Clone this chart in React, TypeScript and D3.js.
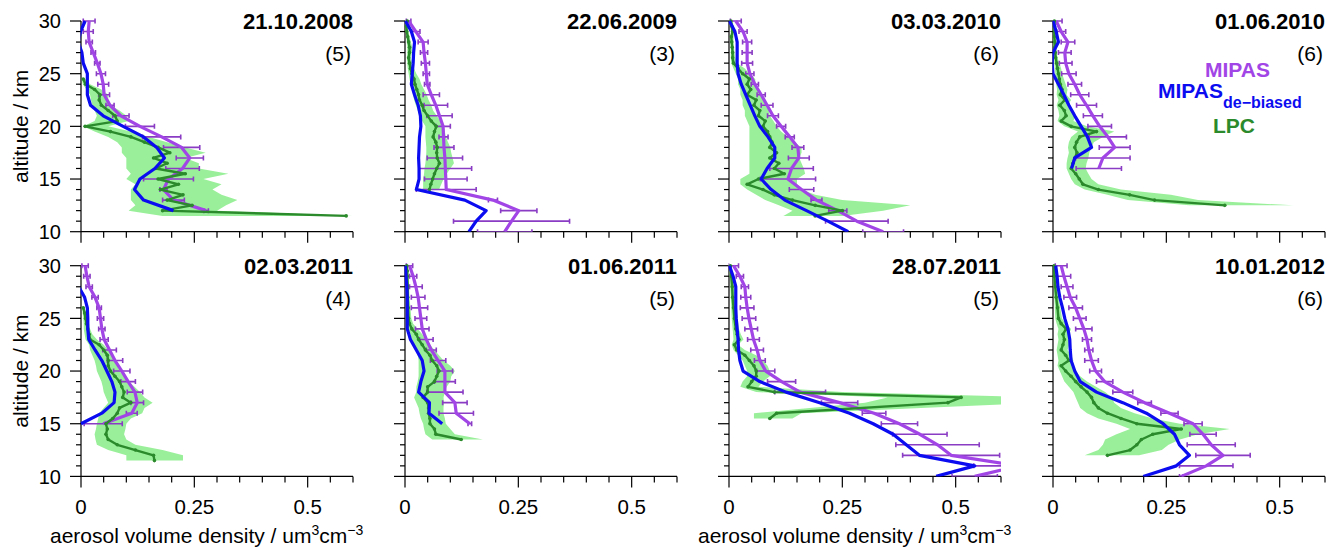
import React from 'react';
import * as d3 from 'd3';

// ---------- panel labels ----------
const DATES = ['21.10.2008', '22.06.2009', '03.03.2010', '01.06.2010', '02.03.2011', '01.06.2011', '28.07.2011', '10.01.2012'];
const COUNTS = [5, 3, 6, 6, 4, 5, 5, 6];
const X_MAJOR = [0, 0.25, 0.5];
const X_MINOR_STEP = 0.05;
const Y_MAJOR = [10, 15, 20, 25, 30];
const X_MAX = 0.6;
const ALT_TOP = 30;
const ALT_BOTTOM = 10;

const halfKm = (from: number, to: number) => d3.range(from, to - 0.01, -0.5);

// ---------- 21.10.2008 ----------  (MIPAS at 30,29,... km)
const mipas1 = [0.018, 0.016, 0.018, 0.027, 0.036, 0.044, 0.049, 0.051, 0.064, 0.088, 0.130, 0.178, 0.222, 0.240, 0.224, 0.193, 0.182, 0.204, 0.276];
const err1 = [0.013, 0.011, 0.007, 0.005, 0.006, 0.010, 0.012, 0.012, 0.009, 0.018, 0.032, 0.042, 0.040, 0.030, 0.037, 0.055, 0.008, 0.024, 0.005];
const deb1 = [0.009, -0.001, -0.006, 0.002, 0.005, 0.014, 0.014, 0.014, 0.021, 0.049, 0.093, 0.138, 0.167, 0.184, 0.163, 0.130, 0.118, 0.138, 0.204];
const lpcAlt1 = halfKm(24.5, 11.5);
const lpc1 = [0.005, 0.010, 0.030, 0.042, 0.040, 0.045, 0.060, 0.075, 0.080, 0.009, 0.065, 0.110, 0.140, 0.170, 0.196, 0.160, 0.190, 0.165, 0.230, 0.170, 0.215, 0.175, 0.225, 0.190, 0.245, 0.180, 0.585];
const lpcLo1 = [0.002, 0.004, 0.012, 0.020, 0.022, 0.025, 0.030, 0.035, 0.030, 0.005, 0.030, 0.060, 0.080, 0.090, 0.090, 0.100, 0.100, 0.100, 0.110, 0.100, 0.120, 0.110, 0.110, 0.110, 0.120, 0.105, 0.180];
const lpcHi1 = [0.010, 0.020, 0.045, 0.060, 0.060, 0.065, 0.085, 0.100, 0.105, 0.060, 0.110, 0.150, 0.190, 0.230, 0.275, 0.230, 0.260, 0.260, 0.325, 0.270, 0.310, 0.290, 0.310, 0.345, 0.320, 0.300, 0.600];

// ---------- 22.06.2009 ----------
const mipas2 = [0.008, 0.024, 0.040, 0.042, 0.045, 0.047, 0.049, 0.058, 0.068, 0.076, 0.084, 0.085, 0.086, 0.088, 0.089, 0.090, 0.091, 0.194, 0.251, 0.235, 0.220];
const err2 = [0.005, 0.009, 0.011, 0.008, 0.009, 0.007, 0.006, 0.018, 0.026, 0.028, 0.016, 0.010, 0.022, 0.039, 0.058, 0.047, 0.066, 0.010, 0.040, 0.128, 0.060];
const deb2 = [0.001, 0.014, 0.021, 0.019, 0.018, 0.016, 0.014, 0.021, 0.029, 0.034, 0.035, 0.032, 0.031, 0.030, 0.031, 0.031, 0.025, 0.132, 0.179, 0.157, 0.141];
const lpcAlt2 = halfKm(30, 14);
const lpc2 = [0.005, 0.003, 0.004, 0.006, 0.008, 0.010, 0.010, 0.008, 0.010, 0.012, 0.015, 0.020, 0.022, 0.026, 0.030, 0.032, 0.038, 0.042, 0.050, 0.058, 0.069, 0.065, 0.062, 0.068, 0.071, 0.070, 0.071, 0.076, 0.070, 0.065, 0.061, 0.057, 0.054];
const lpcLo2 = [0.002, 0.001, 0.002, 0.003, 0.004, 0.005, 0.005, 0.004, 0.005, 0.006, 0.008, 0.010, 0.012, 0.015, 0.018, 0.020, 0.024, 0.028, 0.032, 0.038, 0.045, 0.045, 0.045, 0.046, 0.047, 0.047, 0.046, 0.045, 0.043, 0.042, 0.040, 0.040, 0.040];
const lpcHi2 = [0.008, 0.006, 0.007, 0.010, 0.013, 0.016, 0.015, 0.013, 0.016, 0.020, 0.025, 0.032, 0.036, 0.042, 0.048, 0.052, 0.058, 0.062, 0.070, 0.078, 0.085, 0.088, 0.090, 0.095, 0.100, 0.102, 0.105, 0.108, 0.100, 0.092, 0.085, 0.080, 0.075];

// ---------- 03.03.2010 ----------
const mipas3 = [0.015, 0.031, 0.040, 0.040, 0.040, 0.046, 0.057, 0.071, 0.084, 0.097, 0.115, 0.134, 0.152, 0.154, 0.138, 0.130, 0.160, 0.193, 0.240, 0.282, 0.340];
const err3 = [0.012, 0.009, 0.010, 0.011, 0.012, 0.009, 0.008, 0.009, 0.013, 0.012, 0.010, 0.010, 0.013, 0.023, 0.048, 0.061, 0.027, 0.012, 0.020, 0.069, 0.045];
const deb3 = [0.001, 0.013, 0.018, 0.018, 0.018, 0.020, 0.027, 0.037, 0.047, 0.057, 0.068, 0.086, 0.101, 0.101, 0.084, 0.071, 0.093, 0.123, 0.171, 0.218, 0.263];
const lpcAlt3 = halfKm(30, 11.5);
const lpc3 = [0.004, 0.006, 0.008, 0.005, 0.006, 0.007, 0.008, 0.008, 0.010, 0.020, 0.030, 0.045, 0.040, 0.048, 0.040, 0.060, 0.055, 0.068, 0.065, 0.080, 0.075, 0.085, 0.090, 0.095, 0.090, 0.105, 0.090, 0.110, 0.100, 0.122, 0.065, 0.040, 0.075, 0.100, 0.140, 0.190, 0.250, 0.190];
const lpcLo3 = [0.002, 0.003, 0.004, 0.003, 0.003, 0.004, 0.004, 0.004, 0.005, 0.010, 0.015, 0.020, 0.020, 0.025, 0.025, 0.030, 0.030, 0.035, 0.035, 0.040, 0.045, 0.045, 0.045, 0.045, 0.045, 0.045, 0.045, 0.045, 0.045, 0.045, 0.025, 0.025, 0.040, 0.060, 0.080, 0.110, 0.140, 0.120];
const lpcHi3 = [0.008, 0.010, 0.012, 0.010, 0.010, 0.011, 0.012, 0.014, 0.018, 0.035, 0.045, 0.058, 0.058, 0.065, 0.070, 0.078, 0.080, 0.088, 0.090, 0.098, 0.105, 0.115, 0.130, 0.145, 0.160, 0.160, 0.155, 0.160, 0.165, 0.168, 0.150, 0.150, 0.160, 0.190, 0.250, 0.400, 0.340, 0.250];

// ---------- 01.06.2010 ----------
const mipas4 = [0.007, 0.018, 0.033, 0.026, 0.028, 0.035, 0.048, 0.059, 0.074, 0.088, 0.103, 0.121, 0.136, 0.110, 0.101];
const err4 = [0.013, 0.010, 0.015, 0.014, 0.014, 0.016, 0.015, 0.020, 0.022, 0.021, 0.026, 0.041, 0.034, 0.060, 0.050];
const deb4 = [0.000, 0.007, 0.012, 0.000, -0.002, 0.000, 0.012, 0.024, 0.035, 0.048, 0.062, 0.076, 0.085, 0.048, 0.041];
const lpcAlt4 = halfKm(30, 12.5);
const lpc4 = [0.003, 0.003, 0.003, 0.003, 0.004, 0.004, 0.005, 0.006, 0.008, 0.010, 0.012, 0.014, 0.016, 0.020, 0.016, 0.026, 0.015, 0.025, 0.029, 0.018, 0.040, 0.096, 0.059, 0.052, 0.048, 0.053, 0.048, 0.044, 0.040, 0.050, 0.058, 0.066, 0.100, 0.169, 0.224, 0.379];
const lpcLo4 = [0.001, 0.001, 0.001, 0.001, 0.001, 0.001, 0.002, 0.002, 0.003, 0.004, 0.005, 0.006, 0.007, 0.009, 0.008, 0.012, 0.008, 0.012, 0.014, 0.010, 0.025, 0.055, 0.040, 0.035, 0.033, 0.035, 0.032, 0.030, 0.030, 0.035, 0.040, 0.048, 0.070, 0.120, 0.165, 0.300];
const lpcHi4 = [0.006, 0.006, 0.006, 0.006, 0.007, 0.007, 0.008, 0.010, 0.014, 0.018, 0.020, 0.024, 0.028, 0.032, 0.030, 0.040, 0.032, 0.045, 0.050, 0.045, 0.075, 0.135, 0.110, 0.090, 0.085, 0.080, 0.078, 0.074, 0.072, 0.078, 0.085, 0.100, 0.150, 0.260, 0.320, 0.530];

// ---------- 02.03.2011 ----------
const mipas5 = [0.009, 0.013, 0.018, 0.031, 0.040, 0.043, 0.046, 0.051, 0.063, 0.075, 0.090, 0.104, 0.119, 0.124, 0.112, 0.049];
const err5 = [0.007, 0.007, 0.007, 0.007, 0.005, 0.007, 0.007, 0.009, 0.015, 0.017, 0.018, 0.016, 0.017, 0.014, 0.012, 0.042];
const deb5 = [-0.012, -0.009, -0.005, 0.008, 0.014, 0.015, 0.015, 0.017, 0.031, 0.046, 0.057, 0.068, 0.075, 0.073, 0.046, 0.000];
const lpcAlt5 = halfKm(26, 11.5);
const lpc5 = [0.005, 0.008, 0.010, 0.012, 0.015, 0.018, 0.020, 0.040, 0.050, 0.058, 0.060, 0.060, 0.065, 0.075, 0.085, 0.090, 0.095, 0.092, 0.110, 0.085, 0.080, 0.070, 0.055, 0.058, 0.055, 0.060, 0.080, 0.120, 0.160, 0.162];
const lpcLo5 = [0.003, 0.004, 0.005, 0.006, 0.006, 0.008, 0.010, 0.018, 0.020, 0.025, 0.030, 0.033, 0.035, 0.040, 0.045, 0.048, 0.050, 0.055, 0.060, 0.050, 0.040, 0.038, 0.035, 0.033, 0.030, 0.032, 0.035, 0.060, 0.100, 0.100];
const lpcHi5 = [0.008, 0.012, 0.015, 0.018, 0.020, 0.025, 0.035, 0.050, 0.060, 0.068, 0.075, 0.080, 0.085, 0.095, 0.105, 0.118, 0.130, 0.140, 0.158, 0.140, 0.135, 0.110, 0.100, 0.098, 0.095, 0.100, 0.120, 0.180, 0.225, 0.225];

// ---------- 01.06.2011 ----------
const mipas6 = [0.010, 0.018, 0.024, 0.029, 0.032, 0.035, 0.038, 0.047, 0.058, 0.073, 0.088, 0.088, 0.088, 0.110, 0.113, 0.143];
const err6 = [0.007, 0.008, 0.014, 0.015, 0.018, 0.013, 0.015, 0.015, 0.011, 0.017, 0.017, 0.023, 0.040, 0.027, 0.038, 0.004];
const deb6 = [0.001, 0.002, 0.004, 0.005, 0.005, 0.005, 0.005, 0.012, 0.025, 0.038, 0.042, 0.035, 0.030, 0.054, 0.053, 0.082];
const lpcAlt6 = [30, 29.5, 29, 28, 27, 26, 25, 24.5, 24, 23.5, 23, 22.5, 22, 21.5, 21, 20.5, 20, 19.5, 19, 18.5, 18, 17.5, 17, 16.5, 16, 15.5, 15, 14.5, 14, 13.5];
const lpc6 = [0.004, 0.005, 0.005, 0.006, 0.006, 0.007, 0.008, 0.010, 0.015, 0.025, 0.030, 0.038, 0.045, 0.055, 0.060, 0.070, 0.075, 0.070, 0.065, 0.050, 0.050, 0.040, 0.050, 0.052, 0.052, 0.055, 0.055, 0.065, 0.068, 0.124];
const lpcLo6 = [0.002, 0.002, 0.002, 0.002, 0.003, 0.003, 0.004, 0.005, 0.007, 0.012, 0.015, 0.020, 0.025, 0.028, 0.030, 0.030, 0.030, 0.030, 0.028, 0.025, 0.025, 0.020, 0.025, 0.030, 0.032, 0.035, 0.040, 0.042, 0.045, 0.060];
const lpcHi6 = [0.006, 0.007, 0.008, 0.009, 0.010, 0.012, 0.014, 0.018, 0.028, 0.038, 0.045, 0.055, 0.065, 0.075, 0.085, 0.100, 0.110, 0.102, 0.100, 0.092, 0.088, 0.085, 0.086, 0.085, 0.085, 0.088, 0.090, 0.100, 0.110, 0.172];

// ---------- 28.07.2011 ----------
const mipas7 = [0.010, 0.024, 0.035, 0.037, 0.040, 0.044, 0.049, 0.054, 0.062, 0.068, 0.081, 0.116, 0.157, 0.244, 0.320, 0.376, 0.421, 0.460, 0.490, 0.640, 0.542];
const err7 = [0.011, 0.008, 0.008, 0.011, 0.015, 0.015, 0.014, 0.013, 0.014, 0.012, 0.020, 0.031, 0.056, 0.040, 0.026, 0.040, 0.060, 0.092, 0.107, 0.100, 0.050];
const deb7 = [0.001, 0.009, 0.015, 0.015, 0.015, 0.016, 0.018, 0.020, 0.021, 0.024, 0.031, 0.068, 0.126, 0.200, 0.266, 0.318, 0.362, 0.391, 0.420, 0.542, 0.457];
const lpcAlt7 = [30, 29, 28, 27, 26, 25, 24, 23.5, 23, 22.5, 22, 21.5, 21, 20.5, 20, 19.5, 19, 18.5, 18, 17.5, 17, 16, 15.5];
const lpc7 = [0.003, 0.005, 0.007, 0.008, 0.010, 0.012, 0.015, 0.018, 0.022, 0.012, 0.017, 0.035, 0.045, 0.055, 0.060, 0.060, 0.050, 0.042, 0.100, 0.512, 0.483, 0.105, 0.090];
const lpcLo7 = [0.001, 0.002, 0.003, 0.004, 0.005, 0.006, 0.008, 0.009, 0.010, 0.006, 0.010, 0.020, 0.030, 0.035, 0.040, 0.040, 0.030, 0.025, 0.060, 0.350, 0.300, 0.055, 0.055];
const lpcHi7 = [0.006, 0.009, 0.012, 0.014, 0.016, 0.019, 0.022, 0.026, 0.032, 0.020, 0.035, 0.060, 0.075, 0.085, 0.090, 0.090, 0.075, 0.065, 0.250, 0.700, 0.700, 0.160, 0.140];

// ---------- 10.01.2012 ----------
const mipas8 = [0.018, 0.024, 0.031, 0.038, 0.050, 0.059, 0.068, 0.075, 0.079, 0.085, 0.094, 0.114, 0.154, 0.202, 0.257, 0.309, 0.331, 0.349, 0.375, 0.338, 0.283];
const err8 = [0.013, 0.015, 0.013, 0.014, 0.015, 0.014, 0.018, 0.010, 0.009, 0.015, 0.013, 0.018, 0.022, 0.015, 0.019, 0.020, 0.029, 0.053, 0.060, 0.059, 0.004];
const deb8 = [0.006, 0.009, 0.011, 0.015, 0.021, 0.026, 0.033, 0.037, 0.038, 0.040, 0.048, 0.060, 0.096, 0.154, 0.206, 0.243, 0.268, 0.279, 0.301, 0.272, 0.199];
const lpcAlt8 = [30, 29, 28, 27, 26, 25, 24.5, 24, 23.5, 23, 22.5, 22, 21.5, 21, 20.5, 20, 19.5, 19, 18.5, 18, 17.5, 17, 16.5, 16, 15.5, 15, 14.5, 14, 13.5, 13, 12.5, 12];
const lpc8 = [0.002, 0.003, 0.005, 0.007, 0.010, 0.012, 0.018, 0.029, 0.022, 0.025, 0.022, 0.018, 0.028, 0.035, 0.018, 0.028, 0.040, 0.050, 0.062, 0.075, 0.085, 0.090, 0.100, 0.120, 0.150, 0.185, 0.283, 0.220, 0.195, 0.185, 0.170, 0.120];
const lpcLo8 = [0.001, 0.001, 0.002, 0.003, 0.004, 0.005, 0.008, 0.012, 0.010, 0.012, 0.010, 0.008, 0.010, 0.012, 0.010, 0.015, 0.020, 0.025, 0.035, 0.045, 0.050, 0.055, 0.060, 0.075, 0.100, 0.140, 0.170, 0.140, 0.115, 0.110, 0.100, 0.070];
const lpcHi8 = [0.004, 0.006, 0.009, 0.012, 0.016, 0.020, 0.028, 0.040, 0.035, 0.038, 0.036, 0.032, 0.040, 0.045, 0.040, 0.050, 0.060, 0.075, 0.095, 0.115, 0.130, 0.135, 0.150, 0.180, 0.220, 0.280, 0.390, 0.320, 0.280, 0.255, 0.240, 0.190];

type PanelData = {
  mipas: number[]; err: number[]; deb: number[];
  lpcAlt: number[]; lpc: number[]; lo: number[]; hi: number[];
};

const PANELS: PanelData[] = [
  { mipas: mipas1, err: err1, deb: deb1, lpcAlt: lpcAlt1, lpc: lpc1, lo: lpcLo1, hi: lpcHi1 },
  { mipas: mipas2, err: err2, deb: deb2, lpcAlt: lpcAlt2, lpc: lpc2, lo: lpcLo2, hi: lpcHi2 },
  { mipas: mipas3, err: err3, deb: deb3, lpcAlt: lpcAlt3, lpc: lpc3, lo: lpcLo3, hi: lpcHi3 },
  { mipas: mipas4, err: err4, deb: deb4, lpcAlt: lpcAlt4, lpc: lpc4, lo: lpcLo4, hi: lpcHi4 },
  { mipas: mipas5, err: err5, deb: deb5, lpcAlt: lpcAlt5, lpc: lpc5, lo: lpcLo5, hi: lpcHi5 },
  { mipas: mipas6, err: err6, deb: deb6, lpcAlt: lpcAlt6, lpc: lpc6, lo: lpcLo6, hi: lpcHi6 },
  { mipas: mipas7, err: err7, deb: deb7, lpcAlt: lpcAlt7, lpc: lpc7, lo: lpcLo7, hi: lpcHi7 },
  { mipas: mipas8, err: err8, deb: deb8, lpcAlt: lpcAlt8, lpc: lpc8, lo: lpcLo8, hi: lpcHi8 },
];

// ---------- layout & style ----------
const W = 1327;
const H = 550;
const COL_X = [81, 405, 729, 1053];
const ROW_Y = [21, 265.7];
const PW = 272;
const PH = 210.7;
const FONT = "'Liberation Sans', Arial, Helvetica, sans-serif";

const C_MIPAS = '#a245e6';
const C_ERR = '#8a3cc4';
const C_DEB = '#0c0cf0';
const C_LPC = '#2b8a2b';
const C_BAND = '#9af09a';

function Panel({ p, i }: { p: PanelData; i: number }) {
  const col = i % 4;
  const row = Math.floor(i / 4);
  const left = COL_X[col];
  const top = ROW_Y[row];
  const x = d3.scaleLinear().domain([0, X_MAX]).range([left, left + PW]);
  const y = d3.scaleLinear().domain([ALT_BOTTOM, ALT_TOP]).range([top + PH, top]);
  const bottom = y(ALT_BOTTOM);

  const mAlt = p.mipas.map((_, k) => ALT_TOP - k);
  const line = d3.line<[number, number]>().x((d) => x(d[0])).y((d) => y(d[1]));
  const band = d3
    .area<number>()
    .y((k) => y(p.lpcAlt[k]))
    .x0((k) => x(p.lo[k]))
    .x1((k) => x(p.hi[k]));
  const idx = p.lpc.map((_, k) => k);

  const xMinor = d3.range(0, X_MAX + 1e-9, X_MINOR_STEP);
  const yMinor = d3.range(ALT_BOTTOM, ALT_TOP + 1e-9, 1);
  const clipId = `clip-${i}`;

  return (
    <g>
      <defs>
        <clipPath id={clipId}>
          <rect x={left - 0.5} y={top - 3} width={PW + 0.5} height={PH + 3} />
        </clipPath>
      </defs>

      {/* axes */}
      <g stroke="#000" strokeWidth={1.2} fill="none">
        <line x1={left} x2={left} y1={top} y2={bottom} />
        <line x1={left} x2={left + PW} y1={bottom} y2={bottom} />
        {yMinor.map((a) => (
          <line key={'y' + a} x1={left - (Y_MAJOR.includes(a) ? 11 : 5)} x2={left} y1={y(a)} y2={y(a)} />
        ))}
        {xMinor.map((v) => {
          const major = X_MAJOR.some((m) => Math.abs(m - v) < 1e-6);
          return <line key={'x' + v} x1={x(v)} x2={x(v)} y1={bottom} y2={bottom + (major ? 11 : 6)} />;
        })}
      </g>

      {/* data */}
      <g clipPath={`url(#${clipId})`}>
        <path d={band(idx) || ''} fill={C_BAND} stroke="none" />
        <g stroke={C_ERR} strokeWidth={1.6}>
          {p.mipas.map((v, k) => {
            const yy = y(mAlt[k]);
            const a = x(v - p.err[k]);
            const b = x(v + p.err[k]);
            return (
              <g key={k}>
                <line x1={a} x2={b} y1={yy} y2={yy} />
                <line x1={a} x2={a} y1={yy - 2.5} y2={yy + 2.5} />
                <line x1={b} x2={b} y1={yy - 2.5} y2={yy + 2.5} />
              </g>
            );
          })}
        </g>
        <path
          d={line(p.mipas.map((v, k) => [v, mAlt[k]] as [number, number])) || ''}
          fill="none"
          stroke={C_MIPAS}
          strokeWidth={3.2}
          strokeLinejoin="round"
        />
        <path
          d={line(p.lpc.map((v, k) => [v, p.lpcAlt[k]] as [number, number])) || ''}
          fill="none"
          stroke={C_LPC}
          strokeWidth={2.4}
          strokeLinejoin="round"
        />
        {p.lpc.map((v, k) => (
          <circle key={'c' + k} cx={x(v)} cy={y(p.lpcAlt[k])} r={1.8} fill={C_LPC} />
        ))}
        <path
          d={line(p.deb.map((v, k) => [v, mAlt[k]] as [number, number])) || ''}
          fill="none"
          stroke={C_DEB}
          strokeWidth={3.2}
          strokeLinejoin="round"
        />
      </g>

      {/* titles */}
      <text x={left + PW} y={top + 8} textAnchor="end" fontSize={22} fontWeight="bold" fill="#000">
        {DATES[i]}
      </text>
      <text x={left + PW - 2} y={top + 40} textAnchor="end" fontSize={21} fill="#000">
        ({COUNTS[i]})
      </text>

      {/* y tick labels & title (first column) */}
      {col === 0 && (
        <g>
          {Y_MAJOR.map((a) => (
            <text key={a} x={left - 20} y={y(a)} dy="0.36em" textAnchor="end" fontSize={20} fill="#000">
              {a}
            </text>
          ))}
          <text
            transform={`translate(${left - 53},${(top + bottom) / 2}) rotate(-90)`}
            textAnchor="middle"
            fontSize={21}
            fill="#000"
          >
            altitude / km
          </text>
        </g>
      )}

      {/* x tick labels & title (bottom row) */}
      {row === 1 && (
        <g>
          {X_MAJOR.map((v) => (
            <text key={v} x={x(v)} y={bottom + 38} textAnchor="middle" fontSize={20.5} fill="#000">
              {v}
            </text>
          ))}
          {(col === 0 || col === 2) && (
            <text x={left - 31} y={bottom + 67} fontSize={21} fill="#000">
              aerosol volume density / um
              <tspan dy={-8} fontSize={14}>3</tspan>
              <tspan dy={8}>cm</tspan>
              <tspan dy={-8} fontSize={14}>−3</tspan>
            </text>
          )}
        </g>
      )}

      {/* legend (fourth panel) */}
      {i === 3 && (
        <g fontWeight="bold" fontSize={21}>
          <text x={left + 217} y={top + 56} textAnchor="end" fill={C_MIPAS}>MIPAS</text>
          <text x={left + 105} y={top + 77} fill={C_DEB}>
            MIPAS<tspan dy={10} fontSize={16}>de−biased</tspan>
          </text>
          <text x={left + 160} y={top + 112} fill={C_LPC}>LPC</text>
        </g>
      )}
    </g>
  );
}

export default function App() {
  return (
    <svg
      width={W}
      height={H}
      viewBox={`0 0 ${W} ${H}`}
      style={{ position: 'absolute', left: 0, top: 0, background: '#fff' }}
      fontFamily={FONT}
    >
      <rect x={0} y={0} width={W} height={H} fill="#fff" />
      {PANELS.map((p, i) => (
        <Panel key={i} p={p} i={i} />
      ))}
    </svg>
  );
}
